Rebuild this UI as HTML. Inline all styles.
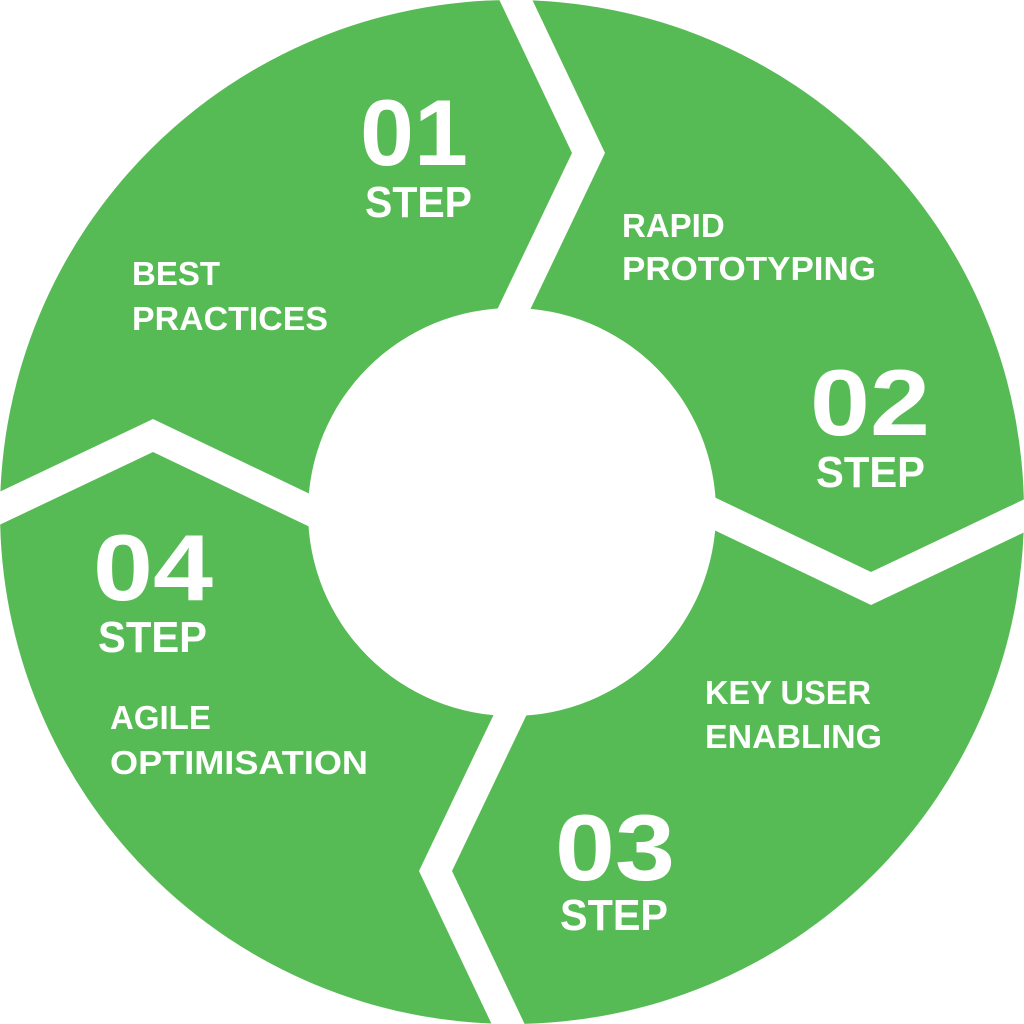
<!DOCTYPE html>
<html><head><style>html,body{margin:0;padding:0;background:#fff}svg{display:block}</style></head>
<body>
<svg width="1024" height="1024" viewBox="0 0 1024 1024" xmlns="http://www.w3.org/2000/svg">
<circle cx="512" cy="512" r="512" fill="#57BB55"/>
<g id="band" fill="#fff"><polygon points="497,-5 572,153 497,310 530,310 605,153 530,-5"/></g>
<g fill="#fff">
<polygon points="497,-5 572,153 497,310 530,310 605,153 530,-5" transform="rotate(90 512 512)"/>
<polygon points="497,-5 572,153 497,310 530,310 605,153 530,-5" transform="rotate(180 512 512)"/>
<polygon points="497,-5 572,153 497,310 530,310 605,153 530,-5" transform="rotate(270 512 512)"/>
</g>
<circle cx="512" cy="512" r="204" fill="#fff"/>
<g fill="#fff" font-family="Liberation Sans, sans-serif" font-weight="bold">
<text x="360" y="165" font-size="94" textLength="108" lengthAdjust="spacingAndGlyphs">01</text>
<text x="365" y="217" font-size="44" textLength="107" lengthAdjust="spacingAndGlyphs">STEP</text>
<text x="810" y="435" font-size="94" textLength="120" lengthAdjust="spacingAndGlyphs">02</text>
<text x="816" y="487" font-size="44" textLength="109" lengthAdjust="spacingAndGlyphs">STEP</text>
<text x="555" y="880" font-size="94" textLength="120" lengthAdjust="spacingAndGlyphs">03</text>
<text x="560" y="930" font-size="44" textLength="108" lengthAdjust="spacingAndGlyphs">STEP</text>
<text x="93" y="600" font-size="94" textLength="120" lengthAdjust="spacingAndGlyphs">04</text>
<text x="98" y="652" font-size="44" textLength="109" lengthAdjust="spacingAndGlyphs">STEP</text>
<g font-size="33">
<text x="132" y="285">BEST</text>
<text x="132" y="330" textLength="196" lengthAdjust="spacingAndGlyphs">PRACTICES</text>
<text x="622" y="237">RAPID</text>
<text x="622" y="280" textLength="254" lengthAdjust="spacingAndGlyphs">PROTOTYPING</text>
<text x="705" y="704" textLength="166" lengthAdjust="spacingAndGlyphs">KEY USER</text>
<text x="705" y="748" textLength="177" lengthAdjust="spacingAndGlyphs">ENABLING</text>
<text x="110" y="729">AGILE</text>
<text x="110" y="774" textLength="258" lengthAdjust="spacingAndGlyphs">OPTIMISATION</text>
</g>
</g>
</svg>
</body></html>
